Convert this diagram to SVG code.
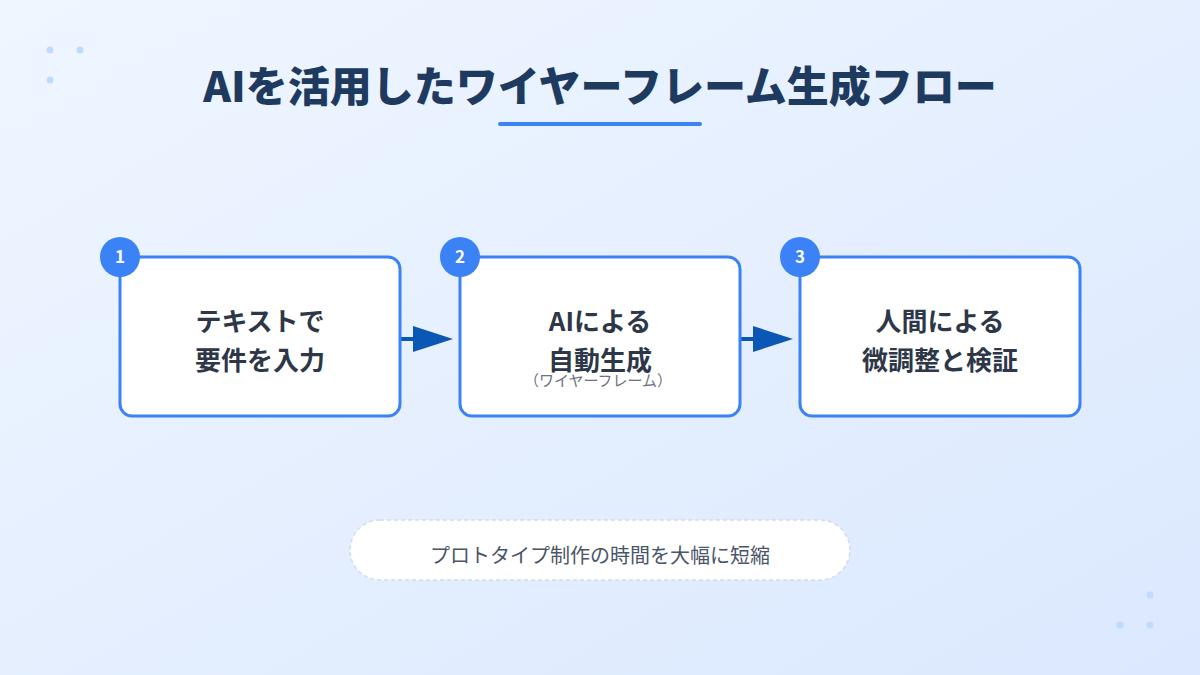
<svg xmlns="http://www.w3.org/2000/svg" width="1200" height="675" viewBox="0 0 1200 675">
<defs>
<linearGradient id="bg" x1="0" y1="0" x2="1" y2="1">
<stop offset="0" stop-color="#eff6ff"/>
<stop offset="1" stop-color="#dbe8fe"/>
</linearGradient>
<style>
text{font-family:"Noto Sans CJK JP","Noto Sans",sans-serif}
.box{fill:#ffffff;stroke:#3b82f6;stroke-width:3}
.badge{fill:#3b82f6}
.num{fill:#ffffff;font-size:17px;font-weight:700;text-anchor:middle}
.lbl{fill:#2d3748;font-size:26px;font-weight:700;text-anchor:middle}
.sub{fill:#6b7280;font-size:15px;text-anchor:middle}
.dot{fill:#bfdbfe}
.conn{stroke:#0b57b5;stroke-width:4;fill:none}
.head{fill:#0b57b5}
</style>
</defs>
<rect width="1200" height="675" fill="url(#bg)"/>
<circle class="dot" cx="50" cy="50" r="3.5"/>
<circle class="dot" cx="80" cy="50" r="3.5"/>
<circle class="dot" cx="50" cy="80" r="3.5"/>
<circle class="dot" cx="1150" cy="595" r="3.5"/>
<circle class="dot" cx="1120" cy="625" r="3.5"/>
<circle class="dot" cx="1150" cy="625" r="3.5"/>
<g id="title">
<text x="600" y="102" text-anchor="middle" font-size="42" font-weight="900" fill="#1e3a5f">AIを活用したワイヤーフレーム生成フロー</text>
<rect x="498" y="122" width="204" height="4" rx="2" fill="#3b82f6"/>
</g>
<g id="connectors">
<path class="conn" d="M400,339 H414"/>
<path class="head" d="M413,326 L453,339 L413,352 Z"/>
<path class="conn" d="M740,339 H754"/>
<path class="head" d="M753,326 L793,339 L753,352 Z"/>
</g>
<g id="step1">
<rect class="box" x="120" y="257" width="280" height="159" rx="12"/>
<circle class="badge" cx="120" cy="257" r="20"/>
<text class="num" x="120" y="263">1</text>
<text class="lbl" x="260" y="331">テキストで</text>
<text class="lbl" x="260" y="370">要件を入力</text>
</g>
<g id="step2">
<rect class="box" x="460" y="257" width="280" height="159" rx="12"/>
<circle class="badge" cx="460" cy="257" r="20"/>
<text class="num" x="460" y="263">2</text>
<text class="lbl" x="600" y="331">AIによる</text>
<text class="lbl" x="600" y="370">自動生成</text>
<text class="sub" x="598" y="386">（ワイヤーフレーム）</text>
</g>
<g id="step3">
<rect class="box" x="800" y="257" width="280" height="159" rx="12"/>
<circle class="badge" cx="800" cy="257" r="20"/>
<text class="num" x="800" y="263">3</text>
<text class="lbl" x="940" y="331">人間による</text>
<text class="lbl" x="940" y="370">微調整と検証</text>
</g>
<g id="note">
<rect x="350" y="520" width="500" height="60" rx="30" fill="#ffffff" stroke="#cfdcec" stroke-width="1.5" stroke-dasharray="4 3"/>
<text x="600" y="563" text-anchor="middle" font-size="20" fill="#4a5568">プロトタイプ制作の時間を大幅に短縮</text>
</g>
</svg>
